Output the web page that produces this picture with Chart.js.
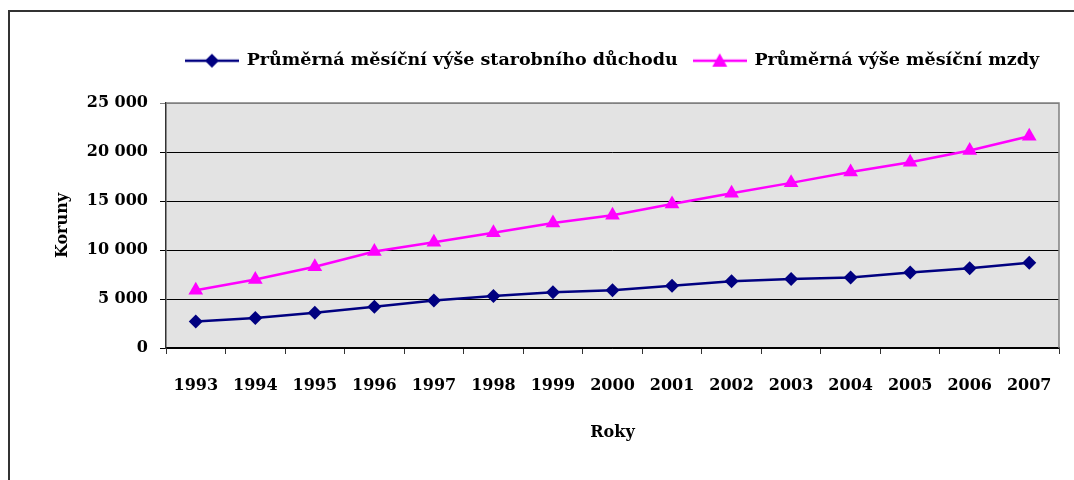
<!DOCTYPE html>
<html>
<head>
<meta charset="utf-8">
<script src="https://cdn.jsdelivr.net/npm/chart.js@4.4.1/dist/chart.umd.min.js"></script>
<style>
  html, body { margin: 0; padding: 0; background: #fff; overflow: hidden; }
  #frame { position: absolute; left: 8px; top: 10px; width: 1200px; height: 600px;
           border-top: 2px solid #333; border-left: 2px solid #333; }
  #mycanvas { display: block; }
</style>
</head>
<body>
<div id="frame"><canvas id="mycanvas" width="1064" height="468"></canvas></div>
<script>
// years on the x axis
var years = ['1993','1994','1995','1996','1997','1998','1999','2000','2001','2002','2003','2004','2005','2006','2007'];
// average monthly old-age pension (CZK)
var pension = [2700, 3050, 3600, 4200, 4850, 5300, 5700, 5900, 6350, 6800, 7050, 7200, 7700, 8150, 8700];
// average monthly wage (CZK)
var wage = [5900, 7000, 8300, 9850, 10800, 11750, 12750, 13550, 14700, 15800, 16850, 17950, 18950, 20150, 21600];
var yTicks = [0, 5000, 10000, 15000, 20000, 25000];

var NAVY = '#000080';
var PINK = '#ff00ff';
var FONT = "'DejaVu Serif', serif";

// small legend pictures: line with marker in the middle
function legendIcon(color, shape) {
  var c = document.createElement('canvas');
  c.width = 54; c.height = 18;
  var g = c.getContext('2d');
  g.strokeStyle = color; g.lineWidth = 2.5;
  g.beginPath(); g.moveTo(0, 9); g.lineTo(54, 9); g.stroke();
  g.fillStyle = color;
  g.beginPath();
  if (shape === 'diamond') {
    g.moveTo(27, 2); g.lineTo(34, 9); g.lineTo(27, 16); g.lineTo(20, 9);
  } else {
    g.moveTo(27, 1.5); g.lineTo(34.5, 15); g.lineTo(19.5, 15);
  }
  g.closePath(); g.fill();
  return c;
}
var icons = [legendIcon(NAVY, 'diamond'), legendIcon(PINK, 'triangle')];

var plotBg = {
  id: 'plotBg',
  beforeInit: function(chart) {
    var origFit = chart.legend.fit;
    chart.legend.fit = function() {
      origFit.call(this);
      this.height = 67;
    };
  },
  beforeDraw: function(chart) {
    var a = chart.chartArea, ctx = chart.ctx;
    ctx.save();
    ctx.fillStyle = '#e3e3e3';
    ctx.fillRect(a.left, a.top, a.right - a.left, a.bottom - a.top);
    ctx.restore();
  },
  beforeDatasetsDraw: function(chart) {
    var a = chart.chartArea, ctx = chart.ctx;
    ctx.save();
    ctx.strokeStyle = '#808080'; ctx.lineWidth = 1.5;
    ctx.beginPath();
    ctx.moveTo(a.left, a.top); ctx.lineTo(a.right, a.top); ctx.lineTo(a.right, a.bottom);
    ctx.stroke();
    ctx.restore();
  }
};

var ctx = document.getElementById('mycanvas');
var chart = new Chart(ctx, {
  type: 'line',
  data: {
    labels: years,
    datasets: [
      {
        label: 'Průměrná měsíční výše starobního důchodu',
        data: pension,
        borderColor: NAVY,
        backgroundColor: NAVY,
        borderWidth: 2.5,
        pointStyle: 'rectRot',
        pointRadius: 7,
        pointBorderWidth: 0,
        tension: 0
      },
      {
        label: 'Průměrná výše měsíční mzdy',
        data: wage,
        borderColor: PINK,
        backgroundColor: PINK,
        borderWidth: 2.5,
        pointStyle: 'triangle',
        pointRadius: 8.5,
        pointBorderWidth: 0,
        tension: 0
      }
    ]
  },
  options: {
    responsive: false,
    animation: false,
    devicePixelRatio: 1,
    layout: { padding: { top: 24, right: 6, left: 0, bottom: 0 } },
    scales: {
      x: {
        offset: true,
        afterFit: function(s) { s.height = 132; },
        grid: { drawOnChartArea: false, drawTicks: true, tickLength: 6, color: '#333', offset: true },
        border: { color: '#000', width: 1.5 },
        ticks: { color: '#000', padding: 22, font: { family: FONT, size: 16, weight: 'bold' }, maxRotation: 0 },
        title: { display: true, text: 'Roky', color: '#000', padding: { top: 0, bottom: 38 },
                 font: { family: FONT, size: 16, weight: 'bold' } }
      },
      y: {
        min: 0, max: 25000,
        afterFit: function(s) { s.width = 156; },
        afterBuildTicks: function(s) { s.ticks = yTicks.map(function(v) { return { value: v }; }); },
        grid: {
          tickLength: 6,
          color: function(c) { return c.tick && c.tick.value === 25000 ? '#808080' : '#000'; },
          lineWidth: 1
        },
        border: { color: '#333', width: 1.5 },
        ticks: {
          color: '#000', padding: 12,
          font: { family: FONT, size: 16, weight: 'bold' },
          callback: function(v) { return String(v).replace(/\B(?=(\d{3})+(?!\d))/g, ' '); }
        },
        title: { display: true, text: 'Koruny', color: '#000', padding: { top: 43, bottom: 0 },
                 font: { family: FONT, size: 16, weight: 'bold' } }
      }
    },
    plugins: {
      legend: {
        display: true,
        position: 'top',
        fullSize: false,
        labels: {
          color: '#000',
          usePointStyle: true,
          pointStyleWidth: 52,
          padding: 16,
          font: { family: FONT, size: 17.5, weight: 'bold' },
          generateLabels: function(chart) {
            var items = Chart.defaults.plugins.legend.labels.generateLabels(chart);
            items.forEach(function(it, i) { it.pointStyle = icons[i]; });
            return items;
          }
        }
      },
      tooltip: { enabled: false }
    }
  },
  plugins: [plotBg]
});
</script>
</body>
</html>
